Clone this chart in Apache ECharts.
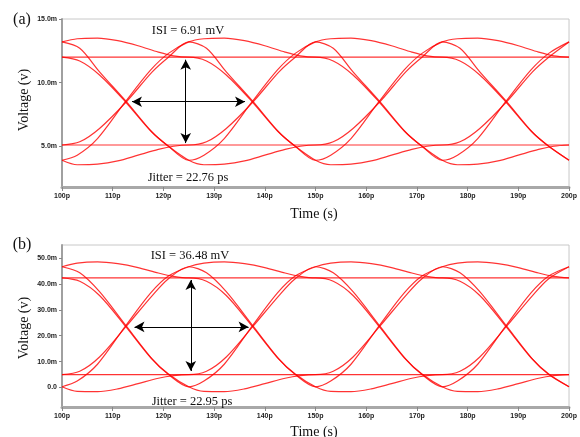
<!DOCTYPE html>
<html><head><meta charset="utf-8">
<script src="https://cdn.jsdelivr.net/npm/echarts@6/dist/echarts.min.js"></script>
<style>html,body{margin:0;padding:0;background:#fff}#c{width:580px;height:437px}</style>
</head><body><div id="c"></div>
<script>
// ---- axis ticks ----
const xTicks = [100,110,120,130,140,150,160,170,180,190,200];
const xTickLabels = ['100p','110p','120p','130p','140p','150p','160p','170p','180p','190p','200p'];
const yTicksA = [5,10,15];
const yTickLabelsA = ['5.0m','10.0m','15.0m'];
const yTicksB = [0,10,20,30,40,50];
const yTickLabelsB = ['0.0','10.0m','20.0m','30.0m','40.0m','50.0m'];

// ---- eye-diagram construction data ----
const eyeCenters = [100,125,150,175,200];          // ps
const bitPatterns = ['000101','001011','010111','101110','011100','111000','110001','100010'];

// panel (a) segment shapes: [offset ps from eye centre, mV]
const segA_HpH = [[0,13.2],[3,13.45],[7,13.5],[11,13.3],[15,12.9],[19,12.4],[22,12.1],[25,12.0]];
const segA_HH  = [[0,12.0],[12.5,12.0],[25,12.0]];
const segA_HpL = [[0,13.2],[3.5,12.7],[7.4,10.85],[12.7,8.5],[17.8,6.1],[21,5.0],[25,3.9]];
const segA_HL  = [[0,12.0],[3.5,11.7],[7.4,10.6],[12.5,8.5],[17.5,6.2],[21,5.0],[25,3.9]];
const segA_LmL = [[0,3.9],[3,3.55],[7,3.6],[11,3.85],[15,4.3],[19,4.75],[22,5.0],[25,5.1]];
const segA_LL  = [[0,5.1],[12.5,5.1],[25,5.1]];
const segA_LmH = [[0,3.9],[3,4.3],[7,5.6],[12.5,8.5],[17.5,11.0],[21,12.3],[25,13.2]];
const segA_LH  = [[0,5.1],[3.5,5.35],[7.4,6.4],[12.7,8.5],[17.8,10.85],[21,12.0],[25,13.2]];

// panel (b) segment shapes
const segB_HpH = [[0,46.6],[3,48.0],[7,48.5],[11,47.8],[15,46.3],[19,44.2],[22,42.9],[25,42.3]];
const segB_HH  = [[0,42.3],[12.5,42.3],[25,42.3]];
const segB_HpL = [[0,46.6],[3.5,44.3],[7.4,37.0],[12.7,23.7],[17.8,11.0],[21,5.0],[25,0.3]];
const segB_HL  = [[0,42.3],[3.5,41.0],[7.4,35.5],[12.5,23.7],[17.5,11.5],[21,5.2],[25,0.3]];
const segB_LmL = [[0,0.3],[3,-1.5],[7,-1.6],[11,-0.5],[15,1.5],[19,3.6],[22,4.6],[25,5.0]];
const segB_LL  = [[0,5.0],[12.5,5.0],[25,5.0]];
const segB_LmH = [[0,0.3],[3,2.5],[7,9.0],[12.5,23.7],[17.5,36.5],[21,43.0],[25,46.6]];
const segB_LH  = [[0,5.0],[3.5,6.3],[7.4,11.8],[12.7,23.7],[17.8,35.5],[21,42.0],[25,46.6]];

// annotation arrows [[t1,v1],[t2,v2]]
const arrowVA = [[124.4,11.8],[124.4,5.25]];
const arrowHA = [[113.8,8.5],[136.1,8.5]];
const arrowVB = [[125.4,41.5],[125.4,6.4]];
const arrowHB = [[114.3,23.4],[136.8,23.4]];

const segsA = {HpH:segA_HpH,HH:segA_HH,HpL:segA_HpL,HL:segA_HL,LmL:segA_LmL,LL:segA_LL,LmH:segA_LmH,LH:segA_LH};
const segsB = {HpH:segB_HpH,HH:segB_HH,HpL:segB_HpL,HL:segB_HL,LmL:segB_LmL,LL:segB_LL,LmH:segB_LmH,LH:segB_LH};

function buildTrace(bits, segs){
  const pts = [];
  for (let k = 1; k < bits.length - 1; k++){
    const prev = bits[k-1], cur = bits[k], next = bits[k+1];
    let state;
    if (cur === '1') state = prev === '1' ? 'H' : 'Hp';
    else state = prev === '0' ? 'L' : 'Lm';
    const key = state + (next === '1' ? 'H' : 'L');
    const t0 = eyeCenters[k-1];
    segs[key].forEach((p, i) => {
      if (i === 0 && pts.length) return;
      pts.push([t0 + p[0], p[1]]);
    });
  }
  return pts;
}

const chart = echarts.init(document.getElementById('c'), null, {renderer:'canvas'});
const tickLabelStyle = {fontFamily:'Liberation Sans, Arial, sans-serif', fontSize:7, fontWeight:'bold', color:'#222'};
const axisLineX = {show:true, onZero:false, lineStyle:{color:'#a8a8a8', width:3}};
const axisLineY = {show:true, onZero:false, lineStyle:{color:'#a0a0a0', width:2}};

function xAxisCfg(gi){
  return {type:'value', gridIndex:gi, min:100, max:200, interval:10,
    axisLine:axisLineX, axisTick:{show:true, length:4, lineStyle:{color:'#888'}},
    splitLine:{show:false},
    axisLabel:Object.assign({margin:6, formatter:v => xTickLabels[xTicks.indexOf(v)]}, tickLabelStyle)};
}
function yAxisCfg(gi, mn, mx, ticks, labels){
  return {type:'value', gridIndex:gi, min:mn, max:mx,
    axisLine:axisLineY, axisTick:{show:true, length:3, customValues:ticks, lineStyle:{color:'#888'}},
    splitLine:{show:false},
    axisLabel:Object.assign({margin:5, customValues:ticks, formatter:v => labels[ticks.indexOf(v)]}, tickLabelStyle)};
}

const series = [];
function addPanel(gi, segs, arrV, arrH){
  bitPatterns.forEach((b, i) => {
    const s = {type:'line', xAxisIndex:gi, yAxisIndex:gi, data:buildTrace(b, segs),
      showSymbol:false, smooth:0.3, silent:true, z:2,
      lineStyle:{color:'#ff0000', width:1.2, opacity:0.8}};
    if (i === 0){
      s.markLine = {silent:true, symbol:['arrow','arrow'], symbolSize:[8,10], z:5,
        label:{show:false}, lineStyle:{color:'#000', width:1, type:'solid'},
        emphasis:{disabled:true},
        data:[[{coord:arrV[0]},{coord:arrV[1]}],[{coord:arrH[0]},{coord:arrH[1]}]]};
    }
    series.push(s);
  });
}
addPanel(0, segsA, arrowVA, arrowHA);
addPanel(1, segsB, arrowVB, arrowHB);

const serif = 'Liberation Serif, Times New Roman, serif';
function txt(x, y, s, size, rot){
  return {type:'text', x:x, y:y, rotation:rot||0, z:10,
    style:{text:s, font:size+'px '+serif, fill:'#111', align:'center', verticalAlign:'middle'}};
}

chart.setOption({
  animation:false,
  backgroundColor:'#fff',
  grid:[
    {left:62, top:19, width:512, height:168, show:true, borderColor:'#c8c8c8', borderWidth:1},
    {left:62, top:245, width:512, height:162, show:true, borderColor:'#c8c8c8', borderWidth:1}
  ],
  xAxis:[xAxisCfg(0), xAxisCfg(1)],
  yAxis:[yAxisCfg(0, 1.8, 15, yTicksA, yTickLabelsA), yAxisCfg(1, -7.5, 55, yTicksB, yTickLabelsB)],
  series:series,
  graphic:[
    txt(22, 20, '(a)', 16), txt(22, 245, '(b)', 16),
    txt(24, 100, 'Voltage (v)', 14, Math.PI/2),
    txt(24, 328, 'Voltage (v)', 14, Math.PI/2),
    txt(314, 214, 'Time (s)', 14), txt(314, 432, 'Time (s)', 14),
    txt(188, 31, 'ISI = 6.91 mV', 12.5), txt(188, 178, 'Jitter = 22.76 ps', 12.5),
    txt(190, 256, 'ISI = 36.48 mV', 12.5), txt(192, 402, 'Jitter = 22.95 ps', 12.5)
  ]
});
</script></body></html>
